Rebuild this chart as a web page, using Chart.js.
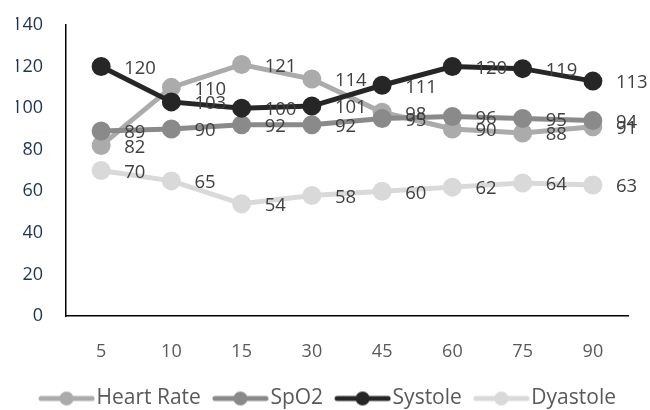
<!DOCTYPE html>
<html>
<head>
<meta charset="utf-8">
<style>
  html, body { margin: 0; padding: 0; background: #fff; }
  #wrap { width: 650px; height: 410px; position: relative; }
</style>
<script src="https://cdn.jsdelivr.net/npm/chart.js@4"></script>
</head>
<body>
<div id="wrap"><canvas id="chart" width="650" height="410"></canvas></div>
<script>
// Minutes after start
const categories = ['5', '10', '15', '30', '45', '60', '75', '90'];

// Vital signs per time point
const heartRate = [82, 110, 121, 114, 98, 90, 88, 91];
const spo2      = [89, 90, 92, 92, 95, 96, 95, 94];
const systole   = [120, 103, 100, 101, 111, 120, 119, 113];
const dyastole  = [70, 65, 54, 58, 60, 62, 64, 63];

const yTicks = [0, 20, 40, 60, 80, 100, 120, 140];

const FONT = "'Open Sans', 'DejaVu Sans', sans-serif";
const colors = {
  hr: '#ababab',
  spo2: '#8a8a8a',
  sys: '#262626',
  dia: '#d9d9d9'
};

// Line-with-marker legend symbol; the transparent left margin spaces the items
function swatch(color) {
  const c = document.createElement('canvas');
  c.width = 76; c.height = 16;
  const g = c.getContext('2d');
  g.strokeStyle = color;
  g.lineWidth = 5;
  g.lineCap = 'round';
  g.beginPath(); g.moveTo(22, 8); g.lineTo(73, 8); g.stroke();
  g.fillStyle = color;
  g.beginPath(); g.arc(47.5, 8, 7, 0, Math.PI * 2); g.fill();
  return c;
}

function series(label, data, color, order) {
  return {
    label, data, order,
    borderColor: color,
    backgroundColor: color,
    pointBackgroundColor: color,
    pointBorderColor: color,
    borderWidth: 5,
    pointRadius: 7,
    pointHoverRadius: 7,
    tension: 0,
    fill: false
  };
}

// Value labels to the right of each marker
const valueLabels = {
  id: 'valueLabels',
  afterDatasetsDraw(chart) {
    const ctx = chart.ctx;
    ctx.save();
    ctx.font = '18.5px ' + FONT;
    ctx.fillStyle = '#404040';
    ctx.textAlign = 'left';
    ctx.textBaseline = 'middle';
    chart.data.datasets.forEach((ds, i) => {
      const meta = chart.getDatasetMeta(i);
      meta.data.forEach((pt, j) => {
        ctx.fillText(String(ds.data[j]), pt.x + 23, pt.y + 2);
      });
    });
    ctx.restore();
  }
};

const swatches = [swatch(colors.hr), swatch(colors.spo2), swatch(colors.sys), swatch(colors.dia)];

new Chart(document.getElementById('chart'), {
  type: 'line',
  data: {
    labels: categories,
    datasets: [
      series('Heart Rate', heartRate, colors.hr, 4),
      series('SpO2', spo2, colors.spo2, 3),
      series('Systole', systole, colors.sys, 2),
      series('Dyastole', dyastole, colors.dia, 1)
    ]
  },
  options: {
    responsive: false,
    animation: false,
    events: [],
    layout: { padding: { left: 16, right: 22, top: 25, bottom: -9 } },
    scales: {
      x: {
        offset: true,
        // invisible tick marks only reserve the gap between axis line and labels
        grid: { display: false, drawTicks: true, tickLength: 25 },
        border: { display: true, color: '#000', width: 1.5 },
        ticks: { color: '#595959', font: { family: FONT, size: 18 }, padding: 0 },
        afterFit(scale) { scale.height = 71; }
      },
      y: {
        min: 0, max: 140,
        grid: { display: false, drawTicks: true, tickLength: 23 },
        border: { display: true, color: '#000', width: 1.5 },
        afterBuildTicks(scale) { scale.ticks = yTicks.map(v => ({ value: v })); },
        ticks: { color: '#1f3352', font: { family: FONT, size: 18 }, padding: 0 },
        afterFit(scale) { scale.width = 50; }
      }
    },
    plugins: {
      tooltip: { enabled: false },
      legend: {
        position: 'bottom',
        labels: {
          usePointStyle: true,
          pointStyleWidth: 58,
          padding: 1,
          color: '#595959',
          font: { family: FONT, size: 21, lineHeight: 1.0 },
          sort: (a, b) => a.datasetIndex - b.datasetIndex,
          generateLabels(chart) {
            const items = Chart.defaults.plugins.legend.labels.generateLabels(chart);
            items.forEach(it => { it.pointStyle = swatches[it.datasetIndex]; });
            return items;
          }
        }
      }
    }
  },
  plugins: [valueLabels]
});
</script>
</body>
</html>
